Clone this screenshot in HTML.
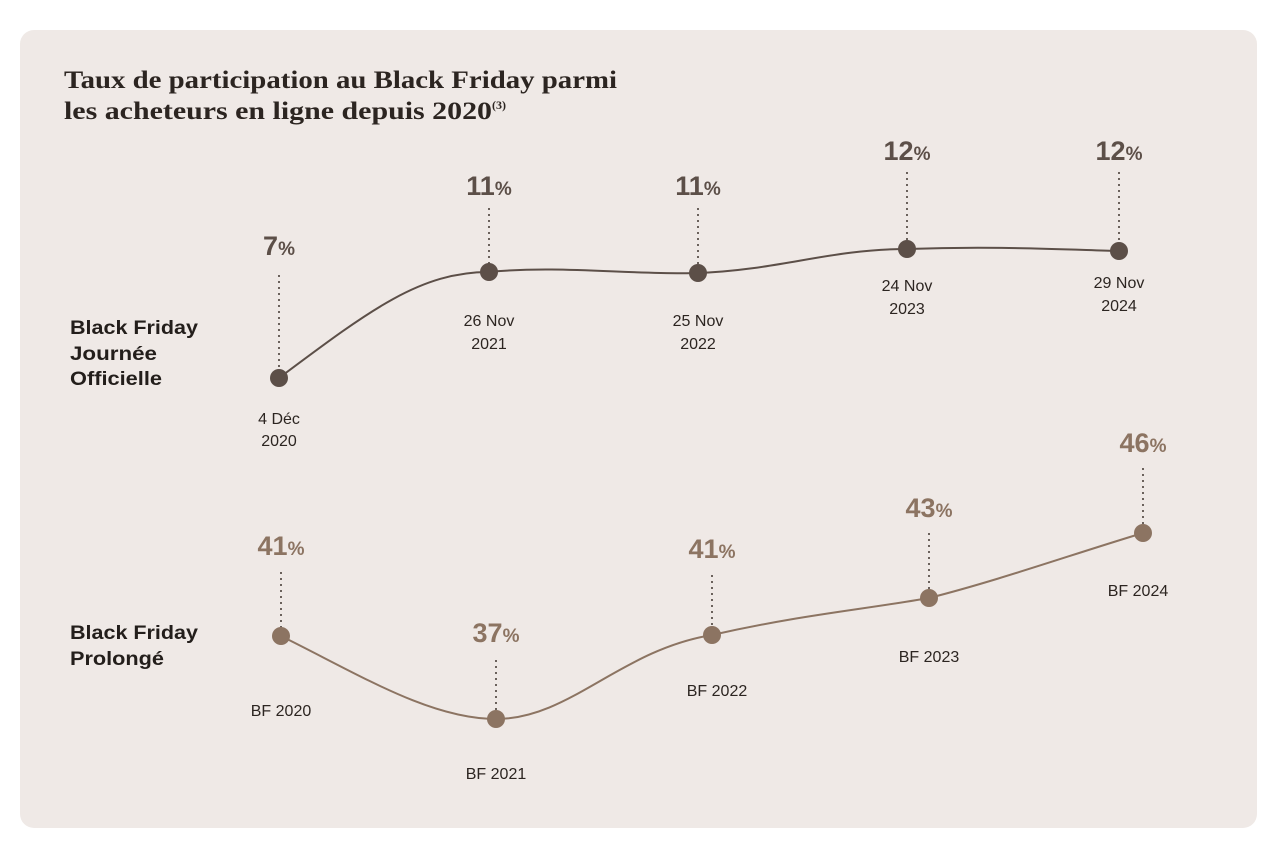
<!DOCTYPE html>
<html><head><meta charset="utf-8"><style>
html,body{margin:0;padding:0;background:#fff;}
body{width:1278px;height:854px;position:relative;overflow:hidden;}
.card{position:absolute;left:20px;top:30px;width:1237px;height:798px;background:#efe9e6;border-radius:14px;}
svg{position:absolute;left:0;top:0;}
</style></head><body>
<div class="card"></div>
<svg width="1278" height="854" viewBox="0 0 1278 854">
<g font-family="'Liberation Serif',serif" font-weight="bold" font-size="25" fill="#2c2521">
<text x="64" y="88" textLength="553" lengthAdjust="spacingAndGlyphs">Taux de participation au Black Friday parmi</text>
<text x="64" y="119"><tspan textLength="428" lengthAdjust="spacingAndGlyphs">les acheteurs en ligne depuis 2020</tspan><tspan font-size="12" dy="-10">(3)</tspan></text>
</g>
<g font-family="'Liberation Sans',sans-serif" font-weight="bold" font-size="19" fill="#231e1b">
<text x="70" y="334" textLength="128" lengthAdjust="spacingAndGlyphs">Black Friday</text><text x="70" y="360" textLength="87" lengthAdjust="spacingAndGlyphs">Journée</text><text x="70" y="385" textLength="92" lengthAdjust="spacingAndGlyphs">Officielle</text>
<text x="70" y="639" textLength="128" lengthAdjust="spacingAndGlyphs">Black Friday</text><text x="70" y="665" textLength="94" lengthAdjust="spacingAndGlyphs">Prolongé</text>
</g>
<g stroke="#4a403a" stroke-width="1.6" stroke-dasharray="2,4" fill="none">
<line x1="279" y1="275" x2="279" y2="372"/><line x1="489" y1="208" x2="489" y2="266"/><line x1="698" y1="208" x2="698" y2="267"/><line x1="907" y1="172" x2="907" y2="243"/><line x1="1119" y1="172" x2="1119" y2="245"/>
<line x1="281" y1="572" x2="281" y2="630"/><line x1="496" y1="660" x2="496" y2="713"/><line x1="712" y1="575" x2="712" y2="629"/><line x1="929" y1="533" x2="929" y2="592"/><line x1="1143" y1="468" x2="1143" y2="527"/>
</g>
<path d="M279,378 C370,310 420,272 489,272 C560,265 630,275 698,273 C780,270 830,249 907,249 C990,246 1050,249 1119,251" stroke="#5c4f48" stroke-width="2" fill="none"/>
<path d="M281,636 C360,675 430,719 496,719 C570,719 620,650 712,635 C800,615 860,610 929,598 C1000,580 1070,555 1143,533" stroke="#8c7462" stroke-width="2" fill="none"/>
<g fill="#5c4f48"><circle cx="279" cy="378" r="9"/><circle cx="489" cy="272" r="9"/><circle cx="698" cy="273" r="9"/><circle cx="907" cy="249" r="9"/><circle cx="1119" cy="251" r="9"/></g>
<g fill="#8c7462"><circle cx="281" cy="636" r="9"/><circle cx="496" cy="719" r="9"/><circle cx="712" cy="635" r="9"/><circle cx="929" cy="598" r="9"/><circle cx="1143" cy="533" r="9"/></g>
<g font-family="'Liberation Sans',sans-serif" font-weight="bold" font-size="27" text-anchor="middle" fill="#5c4f48">
<text x="279" y="255">7<tspan font-size="19">%</tspan></text>
<text x="489" y="195">11<tspan font-size="19">%</tspan></text>
<text x="698" y="195">11<tspan font-size="19">%</tspan></text>
<text x="907" y="160">12<tspan font-size="19">%</tspan></text>
<text x="1119" y="160">12<tspan font-size="19">%</tspan></text>
</g>
<g font-family="'Liberation Sans',sans-serif" font-weight="bold" font-size="27" text-anchor="middle" fill="#8c7462">
<text x="281" y="555">41<tspan font-size="19">%</tspan></text>
<text x="496" y="642">37<tspan font-size="19">%</tspan></text>
<text x="712" y="558">41<tspan font-size="19">%</tspan></text>
<text x="929" y="517">43<tspan font-size="19">%</tspan></text>
<text x="1143" y="452">46<tspan font-size="19">%</tspan></text>
</g>
<g font-family="'Liberation Sans',sans-serif" font-size="16" text-anchor="middle" fill="#2c2521">
<text x="279" y="424">4 Déc</text><text x="279" y="446">2020</text>
<text x="489" y="326">26 Nov</text><text x="489" y="349">2021</text>
<text x="698" y="326">25 Nov</text><text x="698" y="349">2022</text>
<text x="907" y="291">24 Nov</text><text x="907" y="314">2023</text>
<text x="1119" y="288">29 Nov</text><text x="1119" y="311">2024</text>
<text x="281" y="716">BF 2020</text><text x="496" y="779">BF 2021</text><text x="717" y="696">BF 2022</text><text x="929" y="662">BF 2023</text><text x="1138" y="596">BF 2024</text>
</g>
</svg>
</body></html>
